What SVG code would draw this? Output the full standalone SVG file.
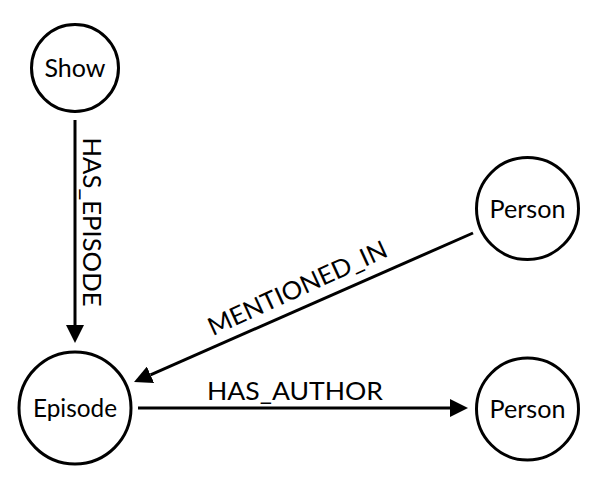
<svg xmlns="http://www.w3.org/2000/svg" width="616" height="495" viewBox="0 0 616 495">
<style>
.node circle{fill:#fff;stroke:#000;stroke-width:3}
.node text{font-family:Lato,"Open Sans","DejaVu Sans",sans-serif;font-size:25px;fill:#000;text-anchor:middle}
.edge{stroke:#000;stroke-width:3;fill:none}
.elabel{font-family:Lato,"Open Sans","DejaVu Sans",sans-serif;font-size:25px;fill:#000;text-anchor:middle}
</style>
<defs>
<marker id="arrow" markerUnits="userSpaceOnUse" viewBox="0 0 18 18" markerWidth="18" markerHeight="18" refX="0" refY="9" orient="auto">
<path d="M0,0 L18,9 L0,18 z" fill="#000"/>
</marker>
</defs>
<rect width="616" height="495" fill="#fff"/>
<g id="connectors">
<path class="edge" d="M75,120 L75,325" marker-end="url(#arrow)"/>
<path class="edge" d="M473,233 L150.5,374.8" marker-end="url(#arrow)"/>
<path class="edge" d="M138,408 L450,408" marker-end="url(#arrow)"/>
<text class="elabel" transform="translate(83,222) rotate(90)" textLength="169" lengthAdjust="spacingAndGlyphs">HAS_EPISODE</text>
<text class="elabel" transform="translate(301,296) rotate(-24.5)" textLength="194" lengthAdjust="spacingAndGlyphs">MENTIONED_IN</text>
<text class="elabel" x="295" y="400" textLength="176" lengthAdjust="spacingAndGlyphs">HAS_AUTHOR</text>
</g>
<g id="show" class="node"><circle cx="75" cy="68" r="43.5"/><text x="75" y="77" textLength="61" lengthAdjust="spacingAndGlyphs">Show</text></g>
<g id="episode" class="node"><circle cx="75" cy="408" r="56"/><text x="75" y="417" textLength="84" lengthAdjust="spacingAndGlyphs">Episode</text></g>
<g id="person1" class="node"><circle cx="527.5" cy="208.5" r="51"/><text x="527.5" y="217.5" textLength="76" lengthAdjust="spacingAndGlyphs">Person</text></g>
<g id="person2" class="node"><circle cx="527.5" cy="409" r="51"/><text x="527.5" y="418" textLength="76" lengthAdjust="spacingAndGlyphs">Person</text></g>
</svg>
